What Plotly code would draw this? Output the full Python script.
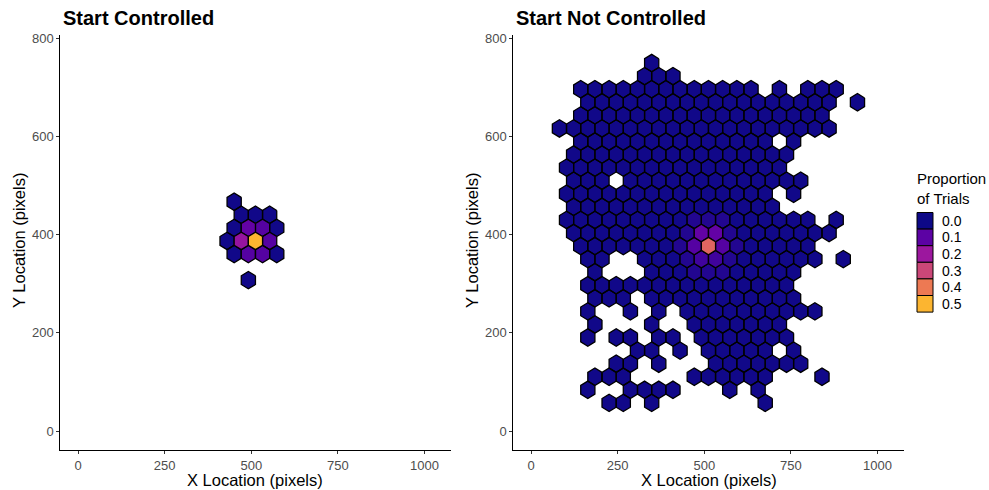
import math
import plotly.graph_objects as go
from plotly.colors import sample_colorscale

# ---------------- data ----------------
# hexbin geometry (binwidth = range / 25 bins, screen 1024 x 768)
BIN_W_X = 1024 / 25
BIN_W_Y = 768 / 25

# proportion levels used in the grids below ('.' = empty bin)
level_codes = ["a", "b", "c", "d", "e", "f", "g", "h"]
level_values = [0.005, 0.025, 0.06, 0.09, 0.11, 0.19, 0.36, 0.50]

# Start Controlled: rows from top (j=6) to bottom (j=0), columns m = 10..14
left_rows = [
    ".a...",
    ".aaa.",
    ".aeda",
    "afhd.",
    ".adda",
    ".....",
    "..a..",
]
left_top_j = 6
left_first_m = 10
left_y_start = 10 * BIN_W_Y

# Start Not Controlled: rows from top (j=27) to bottom (j=1), columns m = 2..23
right_rows = [
    "......a...............",
    "......aaa.............",
    ".aaaaaaaaaaaaa.a.aaa..",
    "..aaaaaaaaaaaaaaaaaa.a",
    ".aaaaaaaaaaaaaaaaaa...",
    "aaaaaaaaaaaaaaaaaaaa..",
    ".aaaaaaaaaaaaaa.a.....",
    ".aaaaaaaaaaaaaaaa.....",
    "aaaaaaaaaaaaaaaa......",
    ".aaa.aaaaaaaaaaaaa....",
    "aaaaaaaaaaaaaaa.a.....",
    ".aaaaaaaaaaaaaaa......",
    "aaaaaaaaabbbaaaaaa.a..",
    ".aaaaaaaabeebaaaaaaa..",
    ".aaaaaaabdgdbaaaaa....",
    "..aa..aaabccbaaaaaa.a.",
    "..a...aaabbbaaaaa.....",
    "..aaaaaaaaaaaaaaa.....",
    "..aaa.aaaaaaaaaaa.....",
    "..a..a.a.aaaaaaaaaa...",
    "..a...a..aaaaaaa......",
    "..a.aa.aa.aaaaaaa.....",
    ".....aa.a.aaaaa.a.....",
    "....aa.a...aaaaaaa....",
    "..aaa....aaaaaa...a...",
    "..a..aaaa...a.a.......",
    "...aa.a.......a.......",
]
right_top_j = 27
right_first_m = 2
right_y_start = BIN_W_Y

color_max = 0.6
legend_values = [0.0, 0.1, 0.2, 0.3, 0.4, 0.5]
legend_labels = ["0.0", "0.1", "0.2", "0.3", "0.4", "0.5"]

x_ticks = [0, 250, 500, 750, 1000]
y_ticks = [0, 200, 400, 600, 800]
x_range = [-51.2, 1075.2]
y_range = [-38.4, 806.4]

panel_titles = ["Start Controlled", "Start Not Controlled"]
x_title = "X Location (pixels)"
y_title = "Y Location (pixels)"
legend_title = "Proportion<br>of Trials"

# ---------------- helpers ----------------
code_to_value = dict(zip(level_codes, level_values))
ROW_H = BIN_W_Y * math.sqrt(3) / 2
VERT = BIN_W_Y / math.sqrt(3)
HALF_W = BIN_W_X / 2


def color_of(v):
    return sample_colorscale("Plasma", [min(max(v / color_max, 0), 1)])[0]


def hex_traces(rows, top_j, first_m, y_start, xref, yref):
    groups = {}
    for r, row in enumerate(rows):
        j = top_j - r
        cy = y_start + j * ROW_H
        for i, ch in enumerate(row):
            if ch == ".":
                continue
            m = first_m + i
            cx = (m + 0.5 * (j % 2)) * BIN_W_X
            xs = [cx + HALF_W, cx, cx - HALF_W, cx - HALF_W, cx, cx + HALF_W, cx + HALF_W, None]
            ys = [cy + VERT / 2, cy + VERT, cy + VERT / 2, cy - VERT / 2, cy - VERT, cy - VERT / 2, cy + VERT / 2, None]
            g = groups.setdefault(ch, ([], []))
            g[0].extend(xs)
            g[1].extend(ys)
    traces = []
    for ch in level_codes:
        if ch not in groups:
            continue
        xs, ys = groups[ch]
        traces.append(go.Scatter(
            x=xs, y=ys, mode="lines", fill="toself",
            fillcolor=color_of(code_to_value[ch]),
            line=dict(color="black", width=1.3),
            xaxis=xref, yaxis=yref, showlegend=False, hoverinfo="skip",
        ))
    return traces


fig = go.Figure()
for t in hex_traces(left_rows, left_top_j, left_first_m, left_y_start, "x", "y"):
    fig.add_trace(t)
for t in hex_traces(right_rows, right_top_j, right_first_m, right_y_start, "x2", "y2"):
    fig.add_trace(t)

W, H = 989, 490
FONT = "Liberation Sans, Arial, sans-serif"

def px_x(p):
    return p / W

def px_y(p):
    return (H - p) / H

axis_common = dict(
    showgrid=False, zeroline=False, showline=True, linecolor="black", linewidth=1,
    ticks="outside", ticklen=3, tickcolor="#333333", tickwidth=1,
    tickfont=dict(family=FONT, size=13, color="#4D4D4D"), automargin=False,
)

ydom = [px_y(449.9), px_y(34.9)]
fig.update_layout(
    width=W, height=H,
    margin=dict(l=0, r=0, t=0, b=0),
    paper_bgcolor="white", plot_bgcolor="white",
    xaxis=dict(domain=[px_x(60.3), px_x(450.6)], range=x_range, tickvals=x_ticks,
               ticktext=[str(v) for v in x_ticks], anchor="y", **axis_common),
    yaxis=dict(domain=ydom, range=y_range, tickvals=y_ticks,
               ticktext=[str(v) for v in y_ticks], anchor="x", **axis_common),
    xaxis2=dict(domain=[px_x(513.3), px_x(903.6)], range=x_range, tickvals=x_ticks,
                ticktext=[str(v) for v in x_ticks], anchor="y2", **axis_common),
    yaxis2=dict(domain=ydom, range=y_range, tickvals=y_ticks,
                ticktext=[str(v) for v in y_ticks], anchor="x2", **axis_common),
    showlegend=False,
)

annotations = []
# panel titles
for title, xp in zip(panel_titles, [61, 514]):
    annotations.append(dict(text="<b>%s</b>" % title, x=px_x(xp), y=px_y(18), xref="paper", yref="paper",
                            xanchor="left", yanchor="middle", showarrow=False,
                            font=dict(family=FONT, size=20, color="black")))
# axis titles
for xc in [255.5, 708.5]:
    annotations.append(dict(text=x_title, x=px_x(xc), y=px_y(480.3), xref="paper", yref="paper",
                            xanchor="center", yanchor="middle", showarrow=False,
                            font=dict(family=FONT, size=16.5, color="black")))
for xc in [19, 472]:
    annotations.append(dict(text=y_title, x=px_x(xc), y=px_y(241), xref="paper", yref="paper",
                            xanchor="center", yanchor="middle", showarrow=False, textangle=-90,
                            font=dict(family=FONT, size=16.5, color="black")))
# legend
annotations.append(dict(text=legend_title, x=px_x(915), y=px_y(188), xref="paper", yref="paper",
                        xanchor="left", yanchor="middle", showarrow=False, align="left",
                        font=dict(family=FONT, size=15, color="black")))
shapes = []
box_top = 212.5
box_h = 16.6
for k, (v, lab) in enumerate(zip(legend_values, legend_labels)):
    y0 = box_top + k * box_h
    shapes.append(dict(type="rect", xref="paper", yref="paper",
                       x0=px_x(917), x1=px_x(933), y0=px_y(y0), y1=px_y(y0 + box_h),
                       fillcolor=color_of(v), line=dict(color="black", width=1)))
    annotations.append(dict(text=lab, x=px_x(940), y=px_y(y0 + box_h / 2), xref="paper", yref="paper",
                            xanchor="left", yanchor="middle", showarrow=False,
                            font=dict(family=FONT, size=14, color="black")))

fig.update_layout(annotations=annotations, shapes=shapes)
fig.write_html("out.html")
